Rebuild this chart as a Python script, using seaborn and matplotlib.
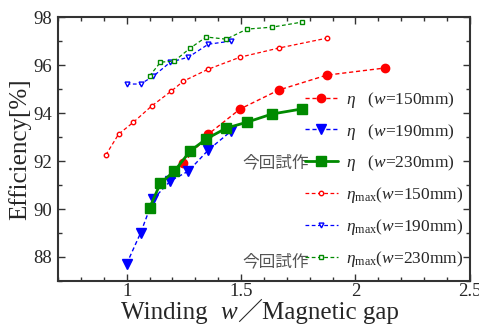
import pandas as pd
import seaborn as sns
import matplotlib.pyplot as plt
from matplotlib.ticker import MultipleLocator
from matplotlib.offsetbox import TextArea, HPacker, AnchoredOffsetbox

# data
x_eta150 = [1.248, 1.357, 1.496, 1.665, 1.874, 2.13]
y_eta150 = [91.92, 93.12, 94.17, 94.96, 95.58, 95.88]

x_eta190 = [1.0, 1.061, 1.117, 1.191, 1.27, 1.357, 1.457]
y_eta190 = [87.71, 89.0, 90.42, 91.17, 91.58, 92.46, 93.25]

x_eta230 = [1.1, 1.148, 1.209, 1.278, 1.348, 1.435, 1.526, 1.635, 1.765]
y_eta230 = [90.04, 91.08, 91.58, 92.42, 92.92, 93.37, 93.62, 93.96, 94.17]

x_max150 = [0.909, 0.965, 1.03, 1.109, 1.196, 1.248, 1.357, 1.496, 1.665, 1.874]
y_max150 = [92.25, 93.12, 93.62, 94.29, 94.92, 95.33, 95.83, 96.33, 96.71, 97.12]

x_max190 = [1.0, 1.061, 1.117, 1.191, 1.27, 1.357, 1.457]
y_max190 = [95.21, 95.21, 95.54, 96.12, 96.33, 96.87, 97.0]

x_max230 = [1.1, 1.148, 1.209, 1.278, 1.348, 1.435, 1.526, 1.635, 1.765]
y_max230 = [95.54, 96.12, 96.17, 96.71, 97.17, 97.08, 97.5, 97.58, 97.79]

sns.set_style("ticks")
plt.rcParams['font.family'] = ['Liberation Serif', 'Noto Sans CJK JP']
plt.rcParams['mathtext.fontset'] = 'custom'
plt.rcParams['mathtext.rm'] = 'Liberation Serif'
plt.rcParams['mathtext.it'] = 'Liberation Serif:italic'

fig = plt.figure(figsize=(4.79, 3.29), dpi=100)
ax = fig.add_axes([0.121, 0.146, 0.860, 0.802])

green = '#008a00'
dash = (0, (3, 2))
series = [
    (x_eta150, y_eta150, 'red', 'o', 6, 'red', dash, 1.0, r'$\eta$   ($w$=150mm)'),
    (x_eta190, y_eta190, 'blue', 'v', 6.5, 'blue', dash, 1.0, r'$\eta$   ($w$=190mm)'),
    (x_eta230, y_eta230, green, 's', 6.5, green, '-', 2.0, r'$\eta$   ($w$=230mm)'),
    (x_max150, y_max150, 'red', 'o', 3.2, 'white', dash, 0.9, r'$\eta_{\rm max}$($w$=150mm)'),
    (x_max190, y_max190, 'blue', 'v', 3.5, 'white', dash, 0.9, r'$\eta_{\rm max}$($w$=190mm)'),
    (x_max230, y_max230, green, 's', 3.2, 'white', dash, 0.9, r'$\eta_{\rm max}$($w$=230mm)'),
]

for xs, ys, col, mk, ms, mfc, ls, lw, lab in series:
    df = pd.DataFrame({"x": xs, "y": ys})
    sns.lineplot(data=df, x="x", y="y", ax=ax, color=col, marker=mk, markersize=ms,
                 markerfacecolor=mfc, markeredgecolor=col, markeredgewidth=1.0,
                 linestyle=ls, linewidth=lw, label=lab, sort=False)

ax.set_xlim(0.7, 2.5)
ax.set_ylim(87, 98)
ax.xaxis.set_minor_locator(MultipleLocator(0.1))
ax.yaxis.set_major_locator(MultipleLocator(2))
ax.yaxis.set_minor_locator(MultipleLocator(1))
ax.set_xticks([1, 1.5, 2, 2.5])
ax.set_xticklabels(['1', '1.5', '2', '2.5'])
ax.tick_params(which='both', direction='in', top=True, right=True, color='#333333',
               labelsize=13.5)
ax.tick_params(axis='x', pad=1.5)
ax.tick_params(axis='y', pad=4)
ax.tick_params(which='major', length=5, width=1)
ax.tick_params(which='minor', length=3, width=1)
for sp in ax.spines.values():
    sp.set_color('#333333')
    sp.set_linewidth(1.5)

# x label built from pieces: italic w and a full-width slash
ax.set_xlabel('')
fs = 18
parts = [
    TextArea('Winding  ', textprops=dict(fontsize=fs, family='Liberation Serif')),
    TextArea('w', textprops=dict(fontsize=fs, family='Liberation Serif', style='italic')),
    TextArea('／', textprops=dict(fontsize=fs, family='Noto Sans CJK JP')),
    TextArea('Magnetic gap', textprops=dict(fontsize=fs, family='Liberation Serif')),
]
box = HPacker(children=parts, align='baseline', pad=0, sep=0)
ab = AnchoredOffsetbox(loc='upper center', child=box, pad=0, borderpad=0, frameon=False,
                       bbox_to_anchor=(0.49, -0.07), bbox_transform=ax.transAxes)
ax.add_artist(ab)

ax.set_ylabel('Efficiency[%]', fontsize=18, labelpad=2)

ax.legend(loc='lower right', frameon=False, fontsize=12.5, handlelength=1.9, numpoints=1,
          labelspacing=0.68, handletextpad=0.45, borderaxespad=0.0,
          bbox_to_anchor=(1.0, 0.02))

for yf in [0.447, 0.072]:
    ax.text(0.61, yf, '今回試作', transform=ax.transAxes, ha='right', va='center',
            fontsize=12, color='#555555', family=['Noto Sans CJK JP'])

fig.savefig("out.png", dpi=100)
